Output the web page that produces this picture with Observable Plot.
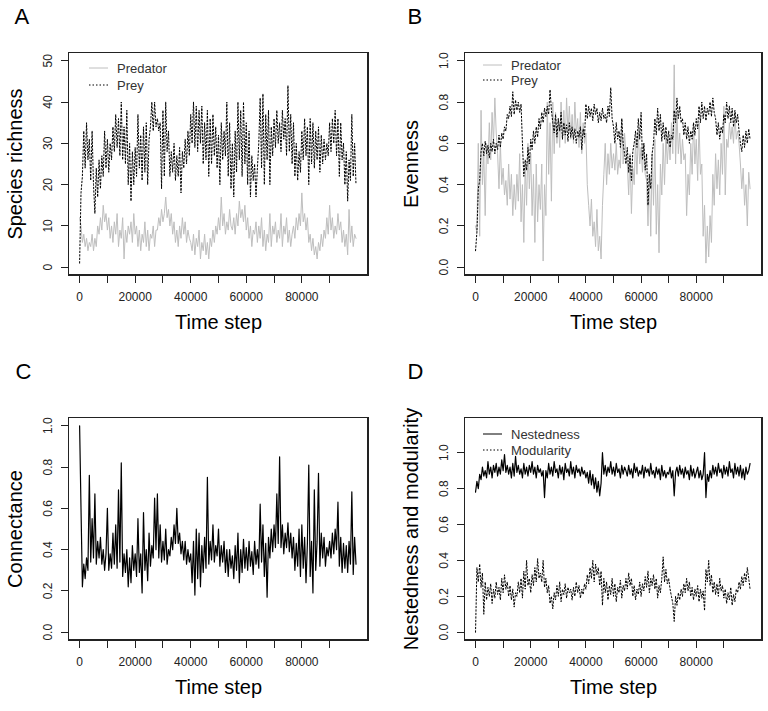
<!DOCTYPE html>
<html>
<head>
<meta charset="utf-8">
<script src="https://cdn.jsdelivr.net/npm/d3@7"></script>
<script src="https://cdn.jsdelivr.net/npm/@observablehq/plot@0.6"></script>
<style>
  html, body { margin: 0; padding: 0; background: #fff; }
  #fig { position: relative; width: 768px; height: 711px; background: #fff; overflow: hidden; }
  #fig > svg { position: absolute; }
  .box { position: absolute; box-sizing: border-box; border: 1px solid #222; z-index: 5; pointer-events: none; }
  .tk { position: absolute; background: #222; z-index: 5; pointer-events: none; }
</style>
</head>
<body>
<div id="fig"></div>
<script>
// sampling interval of the time series (time steps between stored points)
const STEP = 500;

// x axis ticks / labels (R style: ticks every 10000, labels every 20000)
const xTicks = [0, 10000, 20000, 30000, 40000, 50000, 60000, 70000, 80000, 90000];
const xLabels = [0, 20000, 40000, 60000, 80000];

// Panel A: species richness
const yTicksA = [0, 10, 20, 30, 40, 50];
const preyRichness = [
  1, 18, 22, 33, 24, 35, 26, 31, 21, 33,
  20, 13, 24, 17, 26, 19, 27, 22, 33, 24,
  31, 23, 30, 26, 34, 28, 37, 29, 36, 27,
  40, 26, 34, 25, 38, 20, 30, 16, 28, 20,
  29, 22, 37, 24, 32, 21, 34, 23, 35, 20,
  31, 34, 40, 33, 40, 34, 36, 33, 35, 19,
  38, 22, 40, 28, 33, 22, 28, 23, 30, 21,
  27, 22, 29, 18, 28, 24, 31, 25, 33, 27,
  37, 30, 40, 29, 39, 28, 38, 30, 39, 25,
  35, 26, 38, 22, 36, 25, 37, 27, 34, 24,
  32, 20, 35, 26, 33, 27, 40, 22, 35, 19,
  30, 17, 33, 23, 40, 26, 38, 22, 40, 25,
  35, 20, 33, 17, 27, 21, 25, 17, 24, 30,
  41, 24, 42, 20, 37, 26, 38, 20, 34, 27,
  36, 29, 38, 30, 35, 28, 38, 31, 36, 27,
  44, 28, 37, 25, 35, 22, 30, 21, 28, 23,
  33, 26, 36, 27, 34, 20, 36, 25, 35, 24,
  33, 26, 34, 23, 32, 25, 31, 26, 30, 27,
  35, 28, 36, 30, 38, 27, 36, 22, 35, 26,
  30, 20, 28, 16, 26, 21, 37, 22, 30, 20
];
const predatorRichness = [
  12, 10, 6, 8, 5, 7, 4, 6, 5, 8,
  4, 7, 5, 10, 8, 12, 9, 15, 11, 13,
  9, 12, 7, 10, 6, 11, 8, 13, 5, 9,
  7, 12, 2, 9, 6, 10, 8, 11, 6, 13,
  8, 10, 5, 9, 4, 8, 6, 11, 5, 9,
  4, 8, 7, 10, 5, 9, 9, 12, 10, 14,
  11, 13, 17, 12, 14, 10, 13, 8, 11, 6,
  9, 5, 10, 7, 12, 8, 11, 6, 9, 7,
  6, 4, 8, 3, 7, 5, 9, 2, 6, 4,
  8, 3, 6, 2, 7, 5, 9, 6, 10, 8,
  12, 9, 17, 10, 13, 8, 11, 9, 14, 10,
  9, 12, 8, 13, 10, 16, 12, 14, 11, 15,
  9, 12, 7, 10, 5, 9, 8, 11, 6, 10,
  7, 12, 5, 9, 4, 8, 6, 13, 5, 10,
  8, 11, 6, 9, 7, 13, 5, 10, 8, 12,
  6, 9, 5, 8, 10, 7, 12, 9, 13, 10,
  18, 11, 13, 9, 12, 6, 8, 4, 7, 3,
  5, 2, 6, 4, 8, 5, 9, 7, 12, 8,
  15, 9, 12, 7, 10, 8, 13, 9, 11, 6,
  9, 5, 8, 3, 14, 6, 10, 5, 8, 7
];

// Panel B: evenness
const yTicksUnit = [0, 0.2, 0.4, 0.6, 0.8, 1.0];
const preyEvenness = [
  0.08, 0.17, 0.38, 0.42, 0.56, 0.60, 0.54, 0.61, 0.55, 0.59,
  0.53, 0.60, 0.56, 0.62, 0.55, 0.60, 0.57, 0.64, 0.58, 0.65,
  0.62, 0.68, 0.66, 0.74, 0.72, 0.78, 0.73, 0.85, 0.74, 0.81,
  0.76, 0.80, 0.75, 0.79, 0.60, 0.44, 0.52, 0.47, 0.58, 0.50,
  0.62, 0.57, 0.66, 0.60, 0.68, 0.63, 0.72, 0.67, 0.75, 0.70,
  0.77, 0.73, 0.78, 0.74, 0.86, 0.76, 0.70, 0.65, 0.74, 0.63,
  0.72, 0.66, 0.75, 0.62, 0.70, 0.64, 0.69, 0.61, 0.70, 0.63,
  0.68, 0.62, 0.67, 0.60, 0.66, 0.63, 0.68, 0.57, 0.67, 0.63,
  0.79, 0.72, 0.78, 0.73, 0.77, 0.71, 0.79, 0.74, 0.77, 0.70,
  0.75, 0.71, 0.77, 0.72, 0.74, 0.70, 0.78, 0.73, 0.87, 0.72,
  0.68, 0.60, 0.70, 0.62, 0.66, 0.58, 0.72, 0.60, 0.55, 0.50,
  0.58, 0.46, 0.54, 0.42, 0.56, 0.60, 0.66, 0.58, 0.72, 0.62,
  0.75, 0.52, 0.60, 0.47, 0.55, 0.30, 0.45, 0.38, 0.55, 0.60,
  0.72, 0.64, 0.77, 0.66, 0.74, 0.61, 0.70, 0.62, 0.68, 0.60,
  0.66, 0.58, 0.64, 0.62, 0.76, 0.70, 0.82, 0.72, 0.78, 0.70,
  0.72, 0.64, 0.70, 0.62, 0.68, 0.60, 0.66, 0.62, 0.70, 0.64,
  0.72, 0.67, 0.78, 0.70, 0.80, 0.72, 0.78, 0.71, 0.77, 0.74,
  0.80, 0.73, 0.82, 0.75, 0.72, 0.64, 0.70, 0.62, 0.68, 0.65,
  0.74, 0.70, 0.80, 0.72, 0.78, 0.70, 0.77, 0.68, 0.76, 0.70,
  0.74, 0.66, 0.60, 0.56, 0.64, 0.58, 0.66, 0.60, 0.67, 0.62
];
const predatorEvenness = [
  0.20, 0.17, 0.60, 0.15, 0.76, 0.40, 0.55, 0.25, 0.60, 0.50,
  0.70, 0.52, 0.75, 0.60, 0.82, 0.65, 0.55, 0.38, 0.60, 0.40,
  0.48, 0.35, 0.42, 0.30, 0.50, 0.33, 0.45, 0.25, 0.40, 0.28,
  0.45, 0.32, 0.55, 0.22, 0.40, 0.12, 0.50, 0.30, 0.60, 0.38,
  0.55, 0.25, 0.45, 0.12, 0.50, 0.22, 0.40, 0.28, 0.50, 0.03,
  0.40, 0.25, 0.80, 0.45, 0.70, 0.32, 0.80, 0.55, 0.75, 0.60,
  0.72, 0.58, 0.80, 0.62, 0.76, 0.60, 0.82, 0.65, 0.78, 0.62,
  0.74, 0.60, 0.80, 0.65, 0.72, 0.58, 0.75, 0.55, 0.70, 0.60,
  0.65, 0.40, 0.30, 0.20, 0.33, 0.15, 0.22, 0.10, 0.28, 0.08,
  0.15, 0.04, 0.30, 0.45, 0.60, 0.40, 0.55, 0.45, 0.60, 0.48,
  0.55, 0.47, 0.60, 0.45, 0.52, 0.48, 0.72, 0.50, 0.65, 0.55,
  0.50, 0.35, 0.55, 0.26, 0.48, 0.40, 0.62, 0.45, 0.65, 0.50,
  0.58, 0.46, 0.60, 0.45, 0.42, 0.20, 0.45, 0.15, 0.55, 0.30,
  0.62, 0.16, 0.40, 0.07, 0.50, 0.35, 0.60, 0.40, 0.65, 0.50,
  0.62, 0.52, 0.70, 0.55, 0.98, 0.50, 0.75, 0.55, 0.65, 0.50,
  0.62, 0.52, 0.55, 0.25, 0.45, 0.35, 0.60, 0.45, 0.70, 0.50,
  0.62, 0.42, 0.70, 0.45, 0.50, 0.15, 0.30, 0.02, 0.20, 0.05,
  0.25, 0.12, 0.45, 0.30, 0.55, 0.38, 0.52, 0.35, 0.60, 0.45,
  0.78, 0.35, 0.62, 0.58, 0.70, 0.62, 0.68, 0.60, 0.75, 0.62,
  0.66, 0.60, 0.50, 0.38, 0.48, 0.30, 0.40, 0.20, 0.46, 0.38
];

// Panel C: connectance
const connectance = [
  1.00, 0.60, 0.22, 0.33, 0.26, 0.36, 0.30, 0.76, 0.34, 0.55,
  0.36, 0.67, 0.33, 0.44, 0.36, 0.46, 0.33, 0.40, 0.30, 0.38,
  0.60, 0.30, 0.38, 0.31, 0.48, 0.33, 0.52, 0.31, 0.69, 0.34,
  0.82, 0.27, 0.38, 0.29, 0.40, 0.22, 0.36, 0.24, 0.42, 0.30,
  0.38, 0.27, 0.55, 0.29, 0.38, 0.19, 0.58, 0.30, 0.40, 0.25,
  0.48, 0.32, 0.42, 0.36, 0.65, 0.40, 0.67, 0.36, 0.52, 0.34,
  0.44, 0.35, 0.50, 0.33, 0.40, 0.37, 0.46, 0.40, 0.52, 0.43,
  0.60, 0.43, 0.48, 0.38, 0.44, 0.35, 0.44, 0.33, 0.40, 0.34,
  0.38, 0.24, 0.44, 0.18, 0.50, 0.26, 0.48, 0.22, 0.42, 0.29,
  0.46, 0.31, 0.75, 0.33, 0.44, 0.35, 0.52, 0.34, 0.42, 0.37,
  0.50, 0.32, 0.42, 0.34, 0.44, 0.29, 0.40, 0.27, 0.40, 0.31,
  0.37, 0.26, 0.42, 0.30, 0.48, 0.24, 0.40, 0.29, 0.45, 0.31,
  0.41, 0.30, 0.44, 0.32, 0.39, 0.28, 0.44, 0.33, 0.40, 0.31,
  0.62, 0.34, 0.52, 0.27, 0.43, 0.17, 0.46, 0.36, 0.50, 0.39,
  0.52, 0.41, 0.67, 0.43, 0.85, 0.41, 0.52, 0.38, 0.48, 0.41,
  0.53, 0.39, 0.48, 0.36, 0.46, 0.30, 0.43, 0.32, 0.50, 0.27,
  0.52, 0.31, 0.46, 0.24, 0.43, 0.81, 0.27, 0.44, 0.19, 0.69,
  0.30, 0.44, 0.77, 0.32, 0.48, 0.36, 0.46, 0.32, 0.41, 0.37,
  0.44, 0.36, 0.48, 0.38, 0.50, 0.40, 0.63, 0.32, 0.46, 0.29,
  0.43, 0.31, 0.42, 0.29, 0.44, 0.33, 0.68, 0.28, 0.46, 0.33
];

// Panel D: nestedness and modularity
const nestedness = [
  0.78, 0.84, 0.80, 0.88, 0.85, 0.92, 0.87, 0.90, 0.86, 0.95,
  0.88, 0.92, 0.86, 0.93, 0.89, 0.94, 0.87, 0.92, 0.88, 0.96,
  0.90, 0.99, 0.89, 0.93, 0.88, 0.92, 0.86, 0.94, 0.87, 0.98,
  0.89, 0.93, 0.88, 0.91, 0.86, 0.94, 0.88, 0.92, 0.87, 0.93,
  0.89, 0.95, 0.88, 0.92, 0.86, 0.93, 0.89, 0.91, 0.87, 0.90,
  0.75, 0.90, 0.86, 0.94, 0.88, 0.92, 0.87, 0.95, 0.89, 0.91,
  0.86, 0.93, 0.88, 0.92, 0.85, 0.94, 0.89, 0.91, 0.87, 0.95,
  0.88, 0.92, 0.86, 0.93, 0.89, 0.91, 0.87, 0.92, 0.88, 0.90,
  0.86, 0.89, 0.83, 0.90, 0.82, 0.88, 0.80, 0.86, 0.78, 0.84,
  0.76, 0.83, 1.00, 0.88, 0.93, 0.87, 0.92, 0.89, 0.95, 0.88,
  0.92, 0.87, 0.94, 0.89, 0.91, 0.86, 0.93, 0.88, 0.92, 0.90,
  0.87, 0.93, 0.88, 0.91, 0.86, 0.94, 0.89, 0.92, 0.87, 0.90,
  0.88, 0.93, 0.86, 0.92, 0.89, 0.91, 0.87, 0.94, 0.88, 0.90,
  0.86, 0.92, 0.88, 0.91, 0.85, 0.93, 0.87, 0.90, 0.86, 0.89,
  0.88, 0.92, 0.86, 0.90, 0.76, 0.89, 0.92, 0.87, 0.93, 0.88,
  0.91, 0.86, 0.92, 0.88, 0.90, 0.85, 0.93, 0.87, 0.91, 0.86,
  0.89, 0.92, 0.86, 0.90, 0.85, 0.88, 1.00, 0.75, 0.88, 0.84,
  0.90, 0.86, 0.93, 0.88, 0.92, 0.87, 0.94, 0.89, 0.91, 0.86,
  0.93, 0.88, 0.92, 0.87, 0.95, 0.89, 0.91, 0.86, 0.94, 0.88,
  0.92, 0.87, 0.93, 0.86, 0.91, 0.85, 0.92, 0.88, 0.90, 0.94
];
const modularity = [
  0.00, 0.36, 0.28, 0.38, 0.25, 0.33, 0.10, 0.28, 0.18, 0.25,
  0.20, 0.27, 0.16, 0.24, 0.19, 0.28, 0.21, 0.25, 0.18, 0.30,
  0.22, 0.32, 0.24, 0.28, 0.20, 0.26, 0.18, 0.24, 0.14, 0.22,
  0.20, 0.28, 0.22, 0.30, 0.19, 0.34, 0.24, 0.40, 0.26, 0.30,
  0.22, 0.32, 0.26, 0.36, 0.28, 0.41, 0.30, 0.33, 0.28, 0.40,
  0.25, 0.30, 0.22, 0.26, 0.16, 0.20, 0.13, 0.22, 0.18, 0.26,
  0.20, 0.28, 0.17, 0.24, 0.21, 0.27, 0.19, 0.25, 0.22, 0.24,
  0.18, 0.25, 0.20, 0.28, 0.22, 0.26, 0.19, 0.24, 0.21, 0.27,
  0.24, 0.32, 0.27, 0.36, 0.30, 0.40, 0.28, 0.38, 0.32, 0.36,
  0.26, 0.34, 0.15, 0.30, 0.22, 0.28, 0.18, 0.26, 0.21, 0.30,
  0.20, 0.27, 0.17, 0.25, 0.22, 0.29, 0.19, 0.26, 0.23, 0.30,
  0.24, 0.33, 0.26, 0.30, 0.20, 0.26, 0.18, 0.24, 0.21, 0.28,
  0.20, 0.27, 0.23, 0.31, 0.25, 0.34, 0.22, 0.30, 0.26, 0.32,
  0.24, 0.30, 0.19, 0.26, 0.22, 0.30, 0.42, 0.28, 0.35, 0.27,
  0.30, 0.24, 0.20, 0.16, 0.06, 0.20, 0.15, 0.22, 0.18, 0.24,
  0.20, 0.27, 0.22, 0.30, 0.23, 0.28, 0.20, 0.25, 0.18, 0.24,
  0.20, 0.26, 0.17, 0.24, 0.19, 0.23, 0.12, 0.35, 0.28, 0.40,
  0.26, 0.32, 0.22, 0.28, 0.21, 0.27, 0.20, 0.30, 0.23, 0.26,
  0.19, 0.24, 0.16, 0.22, 0.18, 0.25, 0.15, 0.21, 0.17, 0.24,
  0.22, 0.28, 0.24, 0.31, 0.26, 0.33, 0.28, 0.36, 0.30, 0.24
];

const FONT = "'Liberation Sans', Arial, Helvetica, sans-serif";
const GRAY = "#bebebe";
const DOT = "1.5,2";
const AXIS = "#222222";
const tx = (d, i) => i * STEP;
const W = 384;
const X_DOMAIN = [-4000, 104000];
const fig = document.getElementById("fig");

function div(cls, l, t, w, h) {
  const e = document.createElement("div");
  e.className = cls;
  Object.assign(e.style, {left: l + "px", top: t + "px", width: w + "px", height: h + "px"});
  fig.append(e);
}

function panel({letter, ylab, yDomain, yTicks, yFmt, series, margins, height, legend, left, top}) {
  const [mt, mr, mb, ml] = margins;
  const svg = Plot.plot({
    width: W, height,
    marginTop: mt, marginRight: mr, marginBottom: mb, marginLeft: ml,
    x: {domain: X_DOMAIN, axis: null},
    y: {domain: yDomain, axis: null},
    style: {fontFamily: FONT, background: "transparent", overflow: "visible"},
    marks: [
      Plot.frame({stroke: AXIS, strokeWidth: 1}),
      ...series.map(s => Plot.line(s.values, {x: tx, y: d => d, stroke: s.stroke, strokeWidth: s.width || 1, strokeDasharray: s.dash})),
      Plot.text(xLabels, {x: d => d, frameAnchor: "bottom", dy: 25, text: d => String(d), fontSize: 12, fill: "#222"}),
      Plot.text(yTicks, {y: d => d, frameAnchor: "left", dx: -20, rotate: -90, textAnchor: "middle", text: yFmt, fontSize: 12, fill: "#222"}),
      Plot.text([ylab], {frameAnchor: "left", dx: -53, rotate: -90, textAnchor: "middle", fontSize: 20, fill: "#000"}),
      Plot.text(["Time step"], {frameAnchor: "bottom", dy: 53, textAnchor: "middle", fontSize: 20, fill: "#000"}),
      Plot.text([letter.t], {frameAnchor: "top-left", dx: letter.dx, dy: letter.dy, lineAnchor: "bottom", textAnchor: "start", fontSize: 22, fill: "#000"})
    ]
  });
  svg.style.left = left + "px"; svg.style.top = top + "px";
  fig.append(svg);
  // legend inside the plotting region, top-left (R style, no box)
  const g = d3.select(svg).append("g");
  legend.items.forEach((it, k) => {
    const y = legend.y + k * legend.gap;
    g.append("line").attr("x1", legend.x).attr("x2", legend.x + 19).attr("y1", y).attr("y2", y)
      .attr("stroke", it.stroke).attr("stroke-width", 1).attr("stroke-dasharray", it.dash || null);
    g.append("text").attr("x", legend.x + 28).attr("y", y).attr("dy", "0.35em")
      .attr("text-anchor", "start").attr("font-family", FONT).attr("font-size", 13)
      .attr("fill", "#333").text(it.label);
  });
  // box and outward ticks as an overlay, placed through Plot's own scales
  const sx = svg.scale("x"), sy = svg.scale("y");
  const bottom = top + height - mb;
  div("box", left + ml, top + mt, W - ml - mr, height - mt - mb);
  xTicks.forEach(t => div("tk", left + Math.round(sx.apply(t)), bottom - 1, 1, 9));
  yTicks.forEach(v => div("tk", left + ml - 7, top + Math.round(sy.apply(v)), 8, 1));
}

const fmt1 = d => d.toFixed(1);

panel({
  letter: {t: "A", dx: -54, dy: -29}, ylab: "Species richness",
  yDomain: [-2, 52], yTicks: yTicksA, yFmt: d => String(d),
  series: [{values: predatorRichness, stroke: GRAY}, {values: preyRichness, stroke: "#000", dash: DOT}],
  margins: [52, 16, 80, 68], height: 355, left: 0, top: 0,
  legend: {x: 89, y: 68, gap: 17, items: [{label: "Predator", stroke: GRAY}, {label: "Prey", stroke: "#000", dash: DOT}]}
});

panel({
  letter: {t: "B", dx: -57, dy: -29}, ylab: "Evenness",
  yDomain: [-0.04, 1.04], yTicks: yTicksUnit, yFmt: fmt1,
  series: [{values: predatorEvenness, stroke: GRAY}, {values: preyEvenness, stroke: "#000", dash: DOT}],
  margins: [52, 6, 80, 80], height: 355, left: 384, top: 0,
  legend: {x: 99, y: 65, gap: 15, items: [{label: "Predator", stroke: GRAY}, {label: "Prey", stroke: "#000", dash: DOT}]}
});

panel({
  letter: {t: "C", dx: -53, dy: -39}, ylab: "Connectance",
  yDomain: [-0.04, 1.04], yTicks: yTicksUnit, yFmt: fmt1,
  series: [{values: connectance, stroke: "#000", width: 1.2}],
  margins: [62, 16, 71, 68], height: 356, left: 0, top: 355,
  legend: {x: 0, y: 0, gap: 0, items: []}
});

panel({
  letter: {t: "D", dx: -57, dy: -39}, ylab: "Nestedness and modularity",
  yDomain: [-0.046, 1.196], yTicks: yTicksUnit, yFmt: fmt1,
  series: [{values: nestedness, stroke: "#000", width: 1.2}, {values: modularity, stroke: "#000", dash: DOT}],
  margins: [62, 6, 71, 80], height: 356, left: 384, top: 355,
  legend: {x: 99, y: 79, gap: 16, items: [{label: "Nestedness", stroke: "#000"}, {label: "Modularity", stroke: "#000", dash: DOT}]}
});
</script>
</body>
</html>
